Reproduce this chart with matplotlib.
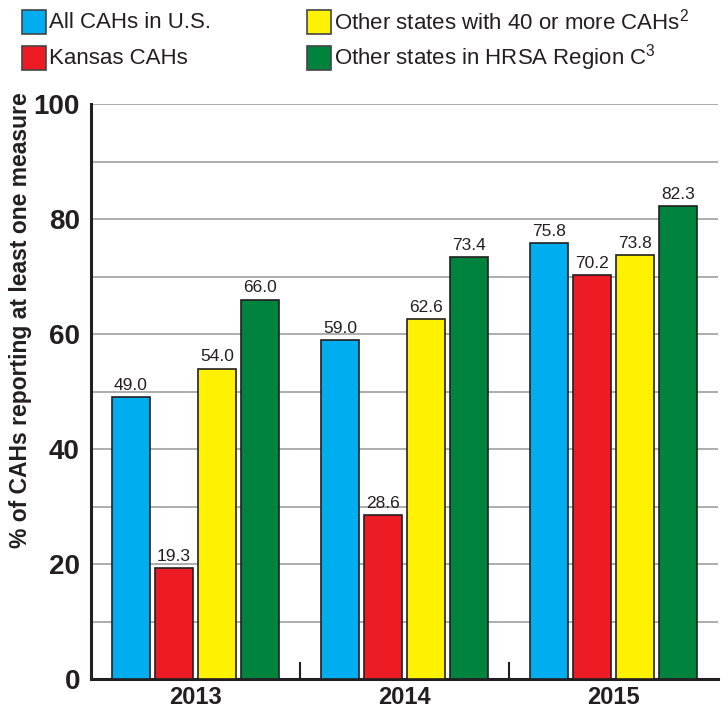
import matplotlib
matplotlib.use('Agg')
import matplotlib.pyplot as plt
from matplotlib.patches import Rectangle
import numpy as np

years = ['2013', '2014', '2015']
series_names = ['All CAHs in U.S.', 'Kansas CAHs',
                'Other states with 40 or more CAHs$^{2}$', 'Other states in HRSA Region C$^{3}$']
all_us = [49.0, 59.0, 75.8]
kansas = [19.3, 28.6, 70.2]
other_40 = [54.0, 62.6, 73.8]
region_c = [66.0, 73.4, 82.3]
colors = ['#00AEEF', '#ED1C24', '#FFF200', '#00843D']

plt.rcParams['font.family'] = ['Liberation Sans', 'DejaVu Sans']
plt.rcParams['mathtext.fontset'] = 'custom'
plt.rcParams['mathtext.rm'] = 'Liberation Sans'
plt.rcParams['mathtext.it'] = 'Liberation Sans'
plt.rcParams['mathtext.default'] = 'rm'

ink = '#231F20'
fig = plt.figure(figsize=(7.28, 7.12), dpi=100)
ax = fig.add_axes([91 / 728, 33 / 712, 627 / 728, 575 / 712])

x = np.arange(len(years)) + 0.5
width = 0.18
step = 0.206
for i, (vals, name, c) in enumerate(zip([all_us, kansas, other_40, region_c], series_names, colors)):
    pos = x + (i - 1.5) * step
    bars = ax.bar(pos, vals, width, color=c, edgecolor=ink, linewidth=1.2, label=name, zorder=3)
    for b, v in zip(bars, vals):
        ax.text(b.get_x() + b.get_width() / 2, v + 0.7, f'{v:.1f}', ha='center', va='bottom',
                fontsize=12.5, color=ink, zorder=4)

ax.set_xlim(0, 3)
ax.set_ylim(0, 100)
ax.set_yticks([0, 20, 40, 60, 80, 100])
ax.set_yticks(np.arange(0, 101, 10), minor=True)
ax.yaxis.grid(True, which='both', color='#A0A0A0', linewidth=1.2, zorder=0)
ax.tick_params(axis='y', which='both', length=0, pad=8)
for lbl in ax.get_yticklabels():
    lbl.set_fontsize(20)
    lbl.set_fontweight('bold')
    lbl.set_color(ink)

ax.set_xticks(x)
ax.set_xticklabels(years, fontsize=17, fontweight='bold', color=ink)
ax.tick_params(axis='x', which='major', length=0, pad=5)
# short separators between year groups
for b in [1, 2]:
    ax.plot([b, b], [0, 2.8], color=ink, linewidth=1.5, zorder=4, clip_on=False)

for s in ['top', 'right']:
    ax.spines[s].set_visible(False)
for s in ['left', 'bottom']:
    ax.spines[s].set_linewidth(2.2)
    ax.spines[s].set_color(ink)

# y label placed in figure coords so it sits where the original one does
fig.text(21 / 728, 1 - 320 / 712, '% of CAHs reporting at least one measure', rotation=90,
         fontsize=16.5, fontweight='bold', color=ink, ha='center', va='center')

# legend laid out by hand in two columns
leg_x = [22, 22, 307, 307]
leg_y = [10, 46, 10, 46]
for name, c, lx, ly in zip(series_names, colors, leg_x, leg_y):
    fig.add_artist(Rectangle((lx / 728, 1 - (ly + 24) / 712), 24 / 728, 24 / 712,
                             transform=fig.transFigure, facecolor=c, edgecolor='#444444',
                             linewidth=1.2))
    fig.text((lx + 27) / 728, 1 - (ly + 12) / 712, name, fontsize=16, color=ink,
             ha='left', va='center')

fig.savefig('out.png', dpi=100)
